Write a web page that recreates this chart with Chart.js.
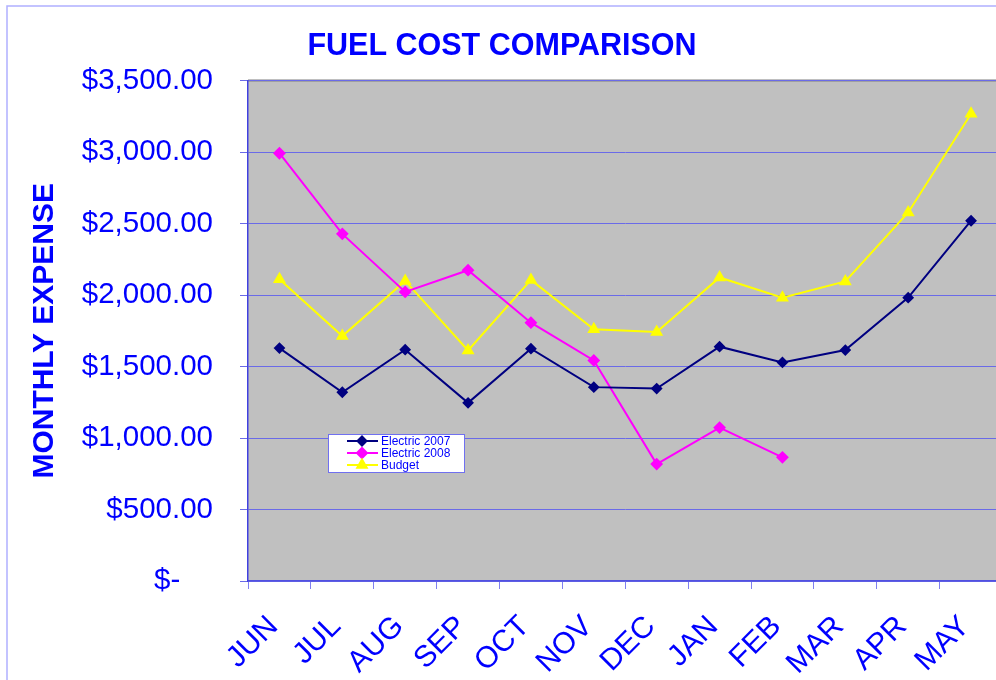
<!DOCTYPE html>
<html lang="en">
<head>
    <meta charset="UTF-8">
    <title>Fuel Cost Comparison</title>
    <script src="https://cdn.jsdelivr.net/npm/chart.js"></script>
    <style>
        body {
            margin: 0;
            overflow: hidden;
            background: #ffffff;
        }
    </style>
</head>
<body>
    <canvas id="graph" width="1010" height="680"></canvas>

    <script>
        const months = ['JUN', 'JUL', 'AUG', 'SEP', 'OCT', 'NOV', 'DEC', 'JAN', 'FEB', 'MAR', 'APR', 'MAY'];
        const electric2007 = [1629, 1320, 1618, 1246, 1625, 1356, 1346, 1639, 1529, 1615, 1982, 2520];
        const electric2008 = [2992, 2428, 2022, 2174, 1807, 1543, 818, 1073, 865, null, null, null];
        const budget = [2111, 1713, 2099, 1613, 2106, 1760, 1741, 2123, 1982, 2095, 2578, 3268];

        const BLUE = '#0000FF';
        const FONT = 'Arial, "Liberation Sans", sans-serif';

        function money(v) {
            if (v === 0) return '$-    ';
            return '$' + v.toLocaleString('en-US', { minimumFractionDigits: 2, maximumFractionDigits: 2 });
        }

        // gray plot area + outer frame
        const backdrop = {
            id: 'backdrop',
            beforeDraw(chart) {
                const ctx = chart.ctx;
                const a = chart.chartArea;
                ctx.save();
                ctx.fillStyle = '#C0C0C0';
                ctx.fillRect(a.left, a.top, a.right - a.left, a.bottom - a.top);
                ctx.strokeStyle = '#808080';
                ctx.lineWidth = 2;
                ctx.beginPath();
                ctx.moveTo(a.left, a.top);
                ctx.lineTo(a.right, a.top);
                ctx.stroke();
                ctx.strokeStyle = '#B0B0FF';
                ctx.lineWidth = 1.5;
                ctx.strokeRect(7, 6, 1100, 800);
                ctx.restore();
            }
        };

        // small legend box inside the plot
        const boxLegend = {
            id: 'boxLegend',
            afterDraw(chart) {
                const ctx = chart.ctx;
                const x = 328, y = 434, w = 136, h = 38;
                ctx.save();
                ctx.fillStyle = '#FFFFFF';
                ctx.fillRect(x, y, w, h);
                ctx.strokeStyle = '#7070F0';
                ctx.lineWidth = 1;
                ctx.strokeRect(x + 0.5, y + 0.5, w, h);
                ctx.font = '12px ' + FONT;
                ctx.textBaseline = 'middle';
                chart.data.datasets.forEach((ds, i) => {
                    const ly = y + 7 + i * 12;
                    ctx.strokeStyle = ds.borderColor;
                    ctx.lineWidth = 2;
                    ctx.beginPath();
                    ctx.moveTo(347, ly);
                    ctx.lineTo(378, ly);
                    ctx.stroke();
                    Chart.helpers.drawPoint(ctx, {
                        pointStyle: ds.pointStyle,
                        radius: ds.pointRadius,
                        borderWidth: 1,
                        rotation: 0
                    }, 362, ly);
                    ctx.fillStyle = ds.borderColor;
                    ctx.strokeStyle = ds.borderColor;
                    ctx.fill();
                    ctx.fillStyle = BLUE;
                    ctx.fillText(ds.label, 381, ly + 1);
                });
                ctx.restore();
            }
        };

        window.onload = function() {
            const ctx = document.getElementById('graph').getContext('2d');
            new Chart(ctx, {
                type: 'line',
                data: {
                    labels: months,
                    datasets: [{
                        label: 'Electric 2007',
                        data: electric2007,
                        borderColor: '#000080',
                        backgroundColor: '#000080',
                        pointStyle: 'rectRot',
                        pointRadius: 4.5,
                        borderWidth: 2
                    }, {
                        label: 'Electric 2008',
                        data: electric2008,
                        borderColor: '#FF00FF',
                        backgroundColor: '#FF00FF',
                        pointStyle: 'rectRot',
                        pointRadius: 5,
                        borderWidth: 2
                    }, {
                        label: 'Budget',
                        data: budget,
                        borderColor: '#FFFF00',
                        backgroundColor: '#FFFF00',
                        pointStyle: 'triangle',
                        pointRadius: 5.5,
                        borderWidth: 2
                    }]
                },
                options: {
                    responsive: false,
                    animation: false,
                    layout: { padding: { left: 0, right: 6, top: 0, bottom: 0 } },
                    plugins: {
                        legend: { display: false },
                        tooltip: { enabled: false },
                        title: {
                            display: true,
                            text: 'FUEL COST COMPARISON',
                            color: BLUE,
                            font: { family: FONT, size: 30.5, weight: 'bold' },
                            padding: { top: 28, bottom: 16 }
                        }
                    },
                    scales: {
                        x: {
                            offset: true,
                            grid: {
                                offset: true,
                                drawOnChartArea: false,
                                drawTicks: true,
                                tickLength: 8,
                                color: '#8080F0'
                            },
                            border: { color: '#5050E0', width: 1.5 },
                            ticks: {
                                color: BLUE,
                                font: { family: FONT, size: 30 },
                                minRotation: 45,
                                maxRotation: 45,
                                padding: 20,
                                labelOffset: -6,
                                autoSkip: false
                            },
                            afterFit(scale) {
                                scale.height = 99;
                                scale.paddingLeft = 0;
                                scale.paddingRight = 0;
                            }
                        },
                        y: {
                            min: 0,
                            max: 3500,
                            grid: {
                                color: '#6A6AE8',
                                tickLength: 8
                            },
                            border: { color: '#4040E0', width: 1.5 },
                            ticks: {
                                stepSize: 500,
                                color: BLUE,
                                padding: 27,
                                font: { family: FONT, size: 29.5 },
                                callback: v => money(v)
                            },
                            title: {
                                display: true,
                                text: 'MONTHLY EXPENSE',
                                color: BLUE,
                                font: { family: FONT, size: 30, weight: 'bold' },
                                padding: { top: 27, bottom: 0 }
                            },
                            afterFit(scale) { scale.width = 248; }
                        }
                    }
                },
                plugins: [backdrop, boxLegend]
            });
        };
    </script>
</body>
</html>
